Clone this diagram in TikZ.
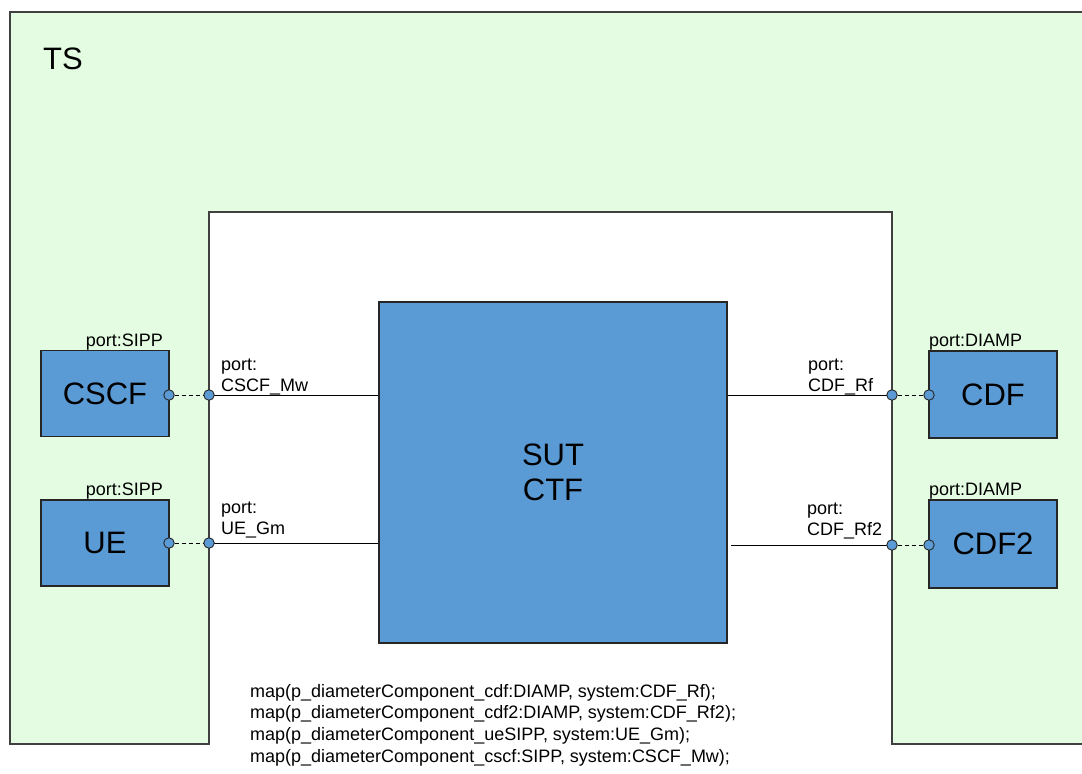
\documentclass[tikz,border=0pt]{standalone}
\usepackage{fontspec}
\setmainfont{Liberation Sans}
\definecolor{tsgreen}{RGB}{228,253,226}
\definecolor{compblue}{RGB}{91,155,213}
\begin{document}
\begin{tikzpicture}[x=1pt,y=-1pt,
  tsfill/.style={fill=tsgreen, draw=black!75, line width=1.2pt},
  blk/.style={draw=black!85, fill=compblue, line width=1.2pt, minimum width=128pt, minimum height=86pt, inner sep=0pt, font=\fontsize{31}{35}\selectfont},
  portdot/.style={circle, draw=black!85, fill=compblue, minimum size=10.5pt, inner sep=0pt, line width=0.9pt},
  portlbl/.style={font=\fontsize{18}{20.5}\selectfont, inner sep=0pt},
  link/.style={draw=black, line width=0.9pt},
  dlink/.style={link, dash pattern=on 4pt off 3pt}]
\useasboundingbox (0,0) rectangle (1082,774);
\clip (0,0) rectangle (1082,774);
\path[tsfill] (10,12) -- (1100,12) -- (1100,744) -- (892,744) -- (892,212) -- (209,212) -- (209,744) -- (10,744) -- cycle;
\node[anchor=base west, font=\fontsize{31}{35}\selectfont, inner sep=0pt] (ts) at (43,69) {TS};
\node[blk] (cscf) at (105,393.5) {CSCF};
\node[blk] (ue) at (105,543) {UE};
\node[blk, minimum height=87pt] (cdf) at (993,394.5) {CDF};
\node[blk, minimum height=88pt] (cdf2) at (993,544) {CDF2};
\node[blk, minimum width=348pt, minimum height=341pt, align=center] (sut) at (553,472.5) {SUT\\CTF};
% port labels
\node[portlbl, anchor=base east] (lcscf) at (163,346) {port:SIPP};
\node[portlbl, anchor=base east] (lue) at (163,495) {port:SIPP};
\node[portlbl, anchor=base west] (lcdf) at (929,346) {port:DIAMP};
\node[portlbl, anchor=base west] (lcdf2) at (929,495) {port:DIAMP};
\node[portlbl, align=left, anchor=base west] (lmw) at (221,391) {port:\\CSCF\_Mw};
\node[portlbl, align=left, anchor=base west] (lgm) at (221,534) {port:\\UE\_Gm};
\node[portlbl, align=left, anchor=base west] (lrf) at (808,391) {port:\\CDF\_Rf};
\node[portlbl, align=left, anchor=base west] (lrf2) at (807,535) {port:\\CDF\_Rf2};
% connectors
\coordinate (ptmw) at (209,395);
\coordinate (ptgm) at (209,543);
\coordinate (ptrf) at (892,395);
\coordinate (ptrf2) at (892,545);
\draw[link] (ptmw) -- (ptmw -| sut.west);
\draw[link] (ptgm) -- (ptgm -| sut.west);
\draw[link] (ptrf) -- (ptrf -| sut.east);
\draw[link] (ptrf2) -- ([xshift=3pt]ptrf2 -| sut.east);
\node[portdot] (pcscf) at (169,395) {};
\node[portdot] (pue) at (169,543) {};
\node[portdot] (pcdf) at (929,395) {};
\node[portdot] (pcdf2) at (929,545) {};
\node[portdot] (mw) at (ptmw) {};
\node[portdot] (gm) at (ptgm) {};
\node[portdot] (rf) at (ptrf) {};
\node[portdot] (rf2) at (ptrf2) {};
\draw[dlink] (pcscf) -- (mw);
\draw[dlink] (pue) -- (gm);
\draw[dlink] (rf) -- (pcdf);
\draw[dlink] (rf2) -- (pcdf2);
% mapping text
\node[align=left, anchor=base west, inner sep=0pt, font=\fontsize{18}{21.6}\selectfont] (maptxt) at (250,762) {map(p\_diameterComponent\_cdf:DIAMP, system:CDF\_Rf);\\map(p\_diameterComponent\_cdf2:DIAMP, system:CDF\_Rf2);\\map(p\_diameterComponent\_ueSIPP, system:UE\_Gm);\\map(p\_diameterComponent\_cscf:SIPP, system:CSCF\_Mw);};
\end{tikzpicture}
\end{document}
